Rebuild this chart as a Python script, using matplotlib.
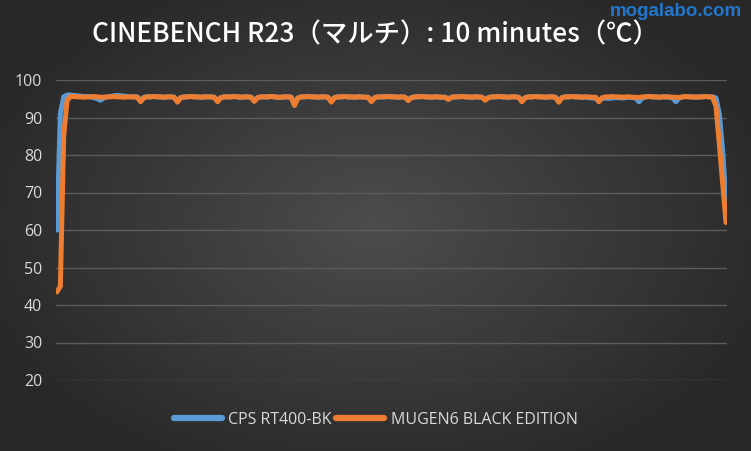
import numpy as np
import matplotlib
matplotlib.use("Agg")
import matplotlib.pyplot as plt

# 3-second samples over 10 minutes
title = "CINEBENCH R23（マルチ）: 10 minutes（℃）"
series_names = ["CPS RT400-BK", "MUGEN6 BLACK EDITION"]
y_ticks = [20, 30, 40, 50, 60, 70, 80, 90, 100]

cps_temp = [
    60.0, 91.0, 95.5, 96.0, 96.0, 95.9, 95.8, 95.7, 95.6, 95.6,
    95.5, 95.3, 95.0, 94.6, 95.2, 95.5, 95.6, 95.8, 95.9, 95.8,
    95.7, 95.6, 95.5, 95.5, 95.5, 94.6, 95.4, 95.5, 95.5, 95.6,
    95.5, 95.5, 95.4, 95.5, 95.5, 95.4, 94.5, 95.3, 95.5, 95.5,
    95.6, 95.5, 95.5, 95.4, 95.5, 95.5, 95.5, 95.4, 94.6, 95.3,
    95.5, 95.5, 95.5, 95.6, 95.5, 95.4, 95.5, 95.5, 95.4, 94.6,
    95.3, 95.5, 95.5, 95.5, 95.6, 95.5, 95.4, 95.4, 95.5, 95.5,
    95.4, 93.6, 95.2, 95.5, 95.5, 95.6, 95.5, 95.5, 95.4, 95.5,
    95.5, 95.4, 94.5, 95.3, 95.5, 95.5, 95.6, 95.5, 95.5, 95.4,
    95.5, 95.5, 95.4, 95.4, 94.6, 95.3, 95.5, 95.5, 95.5, 95.6,
    95.5, 95.5, 95.4, 95.5, 95.4, 94.8, 95.3, 95.5, 95.5, 95.6,
    95.5, 95.5, 95.4, 95.5, 95.5, 95.4, 95.4, 95.0, 95.4, 95.5,
    95.5, 95.6, 95.5, 95.5, 95.4, 95.5, 95.5, 95.4, 94.9, 95.3,
    95.5, 95.5, 95.6, 95.5, 95.5, 95.4, 95.5, 95.5, 95.4, 94.6,
    95.3, 95.5, 95.5, 95.6, 95.5, 95.5, 95.4, 95.5, 95.5, 95.4,
    94.5, 95.3, 95.5, 95.5, 95.6, 95.5, 95.5, 95.4, 95.5, 95.3,
    95.2, 95.1, 94.6, 95.1, 95.2, 95.1, 95.2, 95.3, 95.3, 95.2,
    95.3, 95.4, 95.3, 95.2, 94.2, 95.2, 95.5, 95.6, 95.5, 95.5,
    95.4, 95.5, 95.5, 95.4, 95.3, 94.2, 95.2, 95.5, 95.6, 95.5,
    95.5, 95.4, 95.5, 95.5, 95.6, 95.5, 95.5, 95.2, 91.0, 81.0,
    68.0,
]

mugen_temp = [
    43.5, 45.0, 85.0, 94.5, 95.6, 95.6, 95.5, 95.5, 95.4, 95.5,
    95.5, 95.6, 95.5, 95.4, 95.4, 95.5, 95.5, 95.6, 95.5, 95.5,
    95.4, 95.5, 95.5, 95.5, 95.4, 94.2, 95.3, 95.5, 95.5, 95.6,
    95.5, 95.5, 95.4, 95.5, 95.5, 95.4, 94.1, 95.3, 95.5, 95.5,
    95.6, 95.5, 95.5, 95.4, 95.5, 95.5, 95.5, 95.4, 94.2, 95.3,
    95.5, 95.5, 95.5, 95.6, 95.5, 95.4, 95.5, 95.5, 95.4, 94.3,
    95.3, 95.5, 95.5, 95.5, 95.6, 95.5, 95.4, 95.4, 95.5, 95.5,
    95.4, 93.2, 95.2, 95.5, 95.5, 95.6, 95.5, 95.5, 95.4, 95.5,
    95.5, 95.4, 94.1, 95.3, 95.5, 95.5, 95.6, 95.5, 95.5, 95.4,
    95.5, 95.5, 95.4, 95.4, 94.2, 95.3, 95.5, 95.5, 95.5, 95.6,
    95.5, 95.5, 95.4, 95.5, 95.4, 94.5, 95.3, 95.5, 95.5, 95.6,
    95.5, 95.5, 95.4, 95.5, 95.5, 95.4, 95.4, 94.8, 95.4, 95.5,
    95.5, 95.6, 95.5, 95.5, 95.4, 95.5, 95.5, 95.4, 94.6, 95.3,
    95.5, 95.5, 95.6, 95.5, 95.5, 95.4, 95.5, 95.5, 95.4, 94.2,
    95.3, 95.5, 95.5, 95.6, 95.5, 95.5, 95.4, 95.5, 95.5, 95.4,
    94.1, 95.3, 95.5, 95.5, 95.6, 95.5, 95.5, 95.4, 95.5, 95.5,
    95.4, 95.4, 94.2, 95.3, 95.5, 95.5, 95.6, 95.5, 95.5, 95.4,
    95.5, 95.5, 95.4, 95.4, 95.3, 95.5, 95.5, 95.6, 95.5, 95.5,
    95.4, 95.5, 95.5, 95.5, 95.4, 95.4, 95.3, 95.5, 95.6, 95.5,
    95.5, 95.4, 95.5, 95.5, 95.6, 95.5, 95.4, 93.0, 83.0, 72.5,
    62.0,
]

BLUE = "#5b9bd5"
ORANGE = "#ed7d31"
TEXT = "#d9d9d9"

plt.rcParams["font.family"] = ["Open Sans", "Noto Sans CJK JP", "DejaVu Sans"]

fig = plt.figure(figsize=(7.51, 4.51), dpi=100)

# dark radial background like the Excel chart style
bg = fig.add_axes([0, 0, 1, 1], zorder=-10)
gx, gy = np.meshgrid(np.linspace(-1, 1, 751), np.linspace(-1, 1, 451))
r = np.clip(np.sqrt((gx / 1.1) ** 2 + (gy / 1.2) ** 2), 0, 1)
shade = 0.30 - 0.14 * r
bg.imshow(np.dstack([shade, shade, shade]), aspect="auto", extent=[0, 1, 0, 1])
bg.axis("off")

ax = fig.add_axes([56 / 751, 1 - 380 / 451, 671 / 751, 300 / 451])
ax.set_facecolor("none")

x = np.arange(len(mugen_temp))
ax.plot(x, cps_temp, color=BLUE, lw=3.6, solid_capstyle="round", solid_joinstyle="round",
        label=series_names[0], zorder=3)
ax.plot(x, mugen_temp, color=ORANGE, lw=3.6, solid_capstyle="round", solid_joinstyle="round",
        label=series_names[1], zorder=4)

ax.set_xlim(-0.3, len(x) - 0.7)
ax.set_ylim(20, 100)
ax.set_yticks(y_ticks)
ax.set_xticks([])
ax.grid(axis="y", color="#5c5c5c", lw=1.0)
ax.set_axisbelow(True)
for s in ax.spines.values():
    s.set_visible(False)
ax.tick_params(axis="y", length=0, pad=10, labelcolor=TEXT, labelsize=11.5)
for lbl in ax.get_yticklabels():
    lbl.set_fontfamily(["Open Sans", "DejaVu Sans"])

fig.text(0.5, 1 - 35 / 451, title, ha="center", va="center", color="white",
         fontsize=19, fontweight="medium", family=["Noto Sans CJK JP", "DejaVu Sans"])
fig.text(742 / 751, 1 - 12 / 451, "mogalabo.com", ha="right", va="center", color="#2277cc",
         fontsize=13.5, fontweight="bold", family=["Liberation Sans Narrow", "Liberation Sans"])

leg = fig.legend(loc="center", bbox_to_anchor=(0.5, 1 - 420 / 451), ncol=2, frameon=False,
                 fontsize=11.5, handlelength=3.0, handletextpad=0.4, columnspacing=0.3)
for t in leg.get_texts():
    t.set_color(TEXT)
for h in leg.get_lines():
    h.set_linewidth(4.5)

fig.savefig("out.png", dpi=100)
